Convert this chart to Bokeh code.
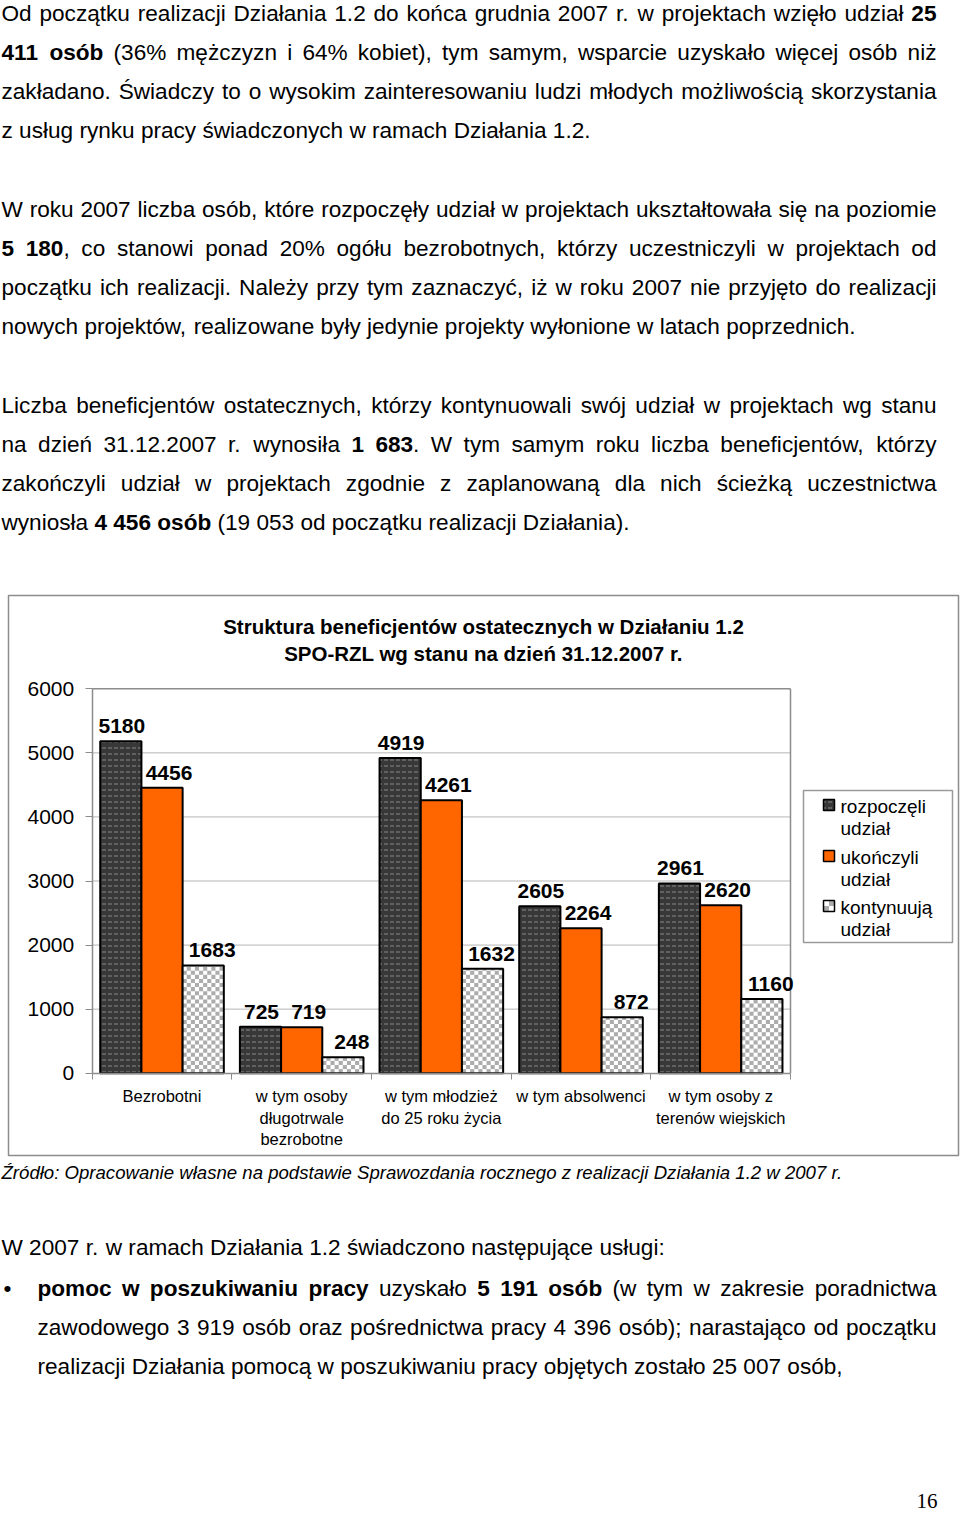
from bokeh.plotting import figure
from bokeh.models import Range1d, LinearAxis, FixedTicker
from bokeh.embed import file_html
from bokeh.resources import INLINE
from bokeh.core.properties import value

# ---------------- data ----------------
categories = ["Bezrobotni", "w tym osoby\ndługotrwale\nbezrobotne", "w tym młodzież\ndo 25 roku życia",
              "w tym absolwenci", "w tym osoby z\nterenów wiejskich"]
series_labels = [["rozpoczęli", "udział"], ["ukończyli", "udział"], ["kontynuują", "udział"]]
rozpoczeli = [5180, 725, 4919, 2605, 2961]
ukonczyli = [4456, 719, 4261, 2264, 2620]
kontynuuja = [1683, 248, 1632, 872, 1160]
y_ticks = [0, 1000, 2000, 3000, 4000, 5000, 6000]
chart_title = ["Struktura beneficjentów ostatecznych w Działaniu 1.2",
               "SPO-RZL wg stanu na dzień 31.12.2007 r."]
source_note = "Źródło: Opracowanie własne na podstawie Sprawozdania rocznego z realizacji Działania 1.2 w 2007 r."

R, B = "r", "b"
para1 = [
    [("Od początku realizacji Działania 1.2 do końca grudnia 2007 r. w projektach wzięło udział ", R), ("25", B)],
    [("411 osób", B), (" (36% mężczyzn i 64% kobiet), tym samym, wsparcie uzyskało więcej osób niż", R)],
    [("zakładano. Świadczy to o wysokim zainteresowaniu ludzi młodych możliwością skorzystania", R)],
    [("z usług rynku pracy świadczonych w ramach Działania 1.2.", R)],
]
para2 = [
    [("W roku 2007 liczba osób, które rozpoczęły udział w projektach ukształtowała się na poziomie", R)],
    [("5 180", B), (", co stanowi ponad 20% ogółu bezrobotnych, którzy uczestniczyli w projektach od", R)],
    [("początku ich realizacji. Należy przy tym zaznaczyć, iż w roku 2007 nie przyjęto do realizacji", R)],
    [("nowych projektów, realizowane były jedynie projekty wyłonione w latach poprzednich.", R)],
]
para3 = [
    [("Liczba beneficjentów ostatecznych, którzy kontynuowali swój udział w projektach wg stanu", R)],
    [("na dzień 31.12.2007 r. wynosiła ", R), ("1 683", B), (". W tym samym roku liczba beneficjentów, którzy", R)],
    [("zakończyli udział w projektach zgodnie z zaplanowaną dla nich ścieżką uczestnictwa", R)],
    [("wyniosła ", R), ("4 456 osób", B), (" (19 053 od początku realizacji Działania).", R)],
]
para4 = [[("W 2007 r. w ramach Działania 1.2 świadczono następujące usługi:", R)]]
bullet1 = [
    [("pomoc w poszukiwaniu pracy", B), (" uzyskało ", R), ("5 191 osób", B), (" (w tym w zakresie poradnictwa", R)],
    [("zawodowego 3 919 osób oraz pośrednictwa pracy 4 396 osób); narastająco od początku", R)],
    [("realizacji Działania pomocą w poszukiwaniu pracy objętych zostało 25 007 osób,", R)],
]
page_number = "16"

# ---------------- font metrics (Arial == Liberation Sans) ----------------
REG = {}
for chars, w in [(" !,./:;", 278), ("%", 889), ("()-", 333), ("0123456789", 556),
                 ("ABEKPSVXYŚ", 667), ("CDHNRU", 722), ("FTZŹŻ", 611), ("GOQ", 778), ("I", 278),
                 ("J", 500), ("LŁ", 556), ("M", 833), ("W", 944),
                 ("abdeghnopquąęńó", 556), ("ckvxyzćśźż", 500), ("ft", 278), ("ijlł", 222),
                 ("m", 833), ("r", 333), ("s", 500), ("w", 722), ("•", 350)]:
    for ch in chars:
        REG[ch] = w
BOLD = {}
for chars, w in [(" ,.:;", 278), ("%", 889), ("()-", 333), ("0123456789", 556),
                 ("ABCDHKNRU", 722), ("EPSVXYŚ", 667), ("FTZŹŻ", 611), ("GOQ", 778), ("I", 278),
                 ("J", 556), ("L", 611), ("M", 833), ("W", 944),
                 ("aceksvxyąćęś", 556), ("bdghnopquńó", 611), ("f", 333), ("ijlł", 278),
                 ("m", 889), ("r", 389), ("t", 333), ("w", 778), ("zźż", 500)]:
    for ch in chars:
        BOLD[ch] = w

FONT = "Liberation Sans"
BODY = 22.6
PAGE_W, PAGE_H = 960, 1515

# ---------------- page-pixel <-> data mapping (chart plot area) ----------------
PL, PR, PB, PT = 91.7, 790.0, 1072.7, 688.3
ncat = len(categories)
ymax = y_ticks[-1]
sx = (PR - PL) / ncat
sy = (PB - PT) / ymax


def ux(px):
    return (px - PL) / sx


def vy(py):
    return (PB - py) / sy


def text_width(s, style, size):
    tbl = BOLD if style == B else REG
    return sum(tbl.get(ch, 556) for ch in s) * size / 1000.0


def layout_line(runs, center, left, right, size, justify, out):
    words, cur = [], []
    for txt, style in runs:
        parts = txt.split(" ")
        for k, part in enumerate(parts):
            if k > 0 and cur:
                words.append(cur)
                cur = []
            if part:
                cur.append((part, style))
    if cur:
        words.append(cur)
    natural = sum(text_width(p, s, size) for wd in words for p, s in wd)
    space = 278 * size / 1000.0
    if justify and len(words) > 1:
        space = (right - left - natural) / (len(words) - 1)
    x = left
    for wd in words:
        for p, s in wd:
            out[s]["x"].append(ux(x))
            out[s]["y"].append(vy(center))
            out[s]["text"].append(p)
            x += text_width(p, s, size)
        x += space


def paragraph(lines, first_center, left, right, out, step=39):
    for i, runs in enumerate(lines):
        layout_line(runs, first_center + i * step, left, right, BODY, i < len(lines) - 1, out)


def checker_cells(left, right, bottom, top, cell_x, cell_y):
    """Grey squares of a checkerboard fill inside one rectangle (data units)."""
    L, Rr, Bt, T = [], [], [], []
    r = 0
    while bottom + r * cell_y < top - 1e-9:
        c = 0
        while left + c * cell_x < right - 1e-9:
            if (r + c) % 2 == 0:
                L.append(left + c * cell_x)
                Rr.append(min(left + (c + 1) * cell_x, right))
                Bt.append(bottom + r * cell_y)
                T.append(min(bottom + (r + 1) * cell_y, top))
            c += 1
        r += 1
    return L, Rr, Bt, T


p = figure(width=PAGE_W, height=PAGE_H, x_range=Range1d(ux(0), ux(PAGE_W)),
           y_range=Range1d(vy(PAGE_H), vy(0)), min_border=0,
           x_axis_type=None, y_axis_type=None, toolbar_location=None,
           output_backend="svg", outline_line_color=None)
p.grid.visible = False

# ---------------- body text ----------------
LEFT, RIGHT = 1, 936
out = {R: {"x": [], "y": [], "text": []}, B: {"x": [], "y": [], "text": []}}
paragraph(para1, 13, LEFT, RIGHT, out)
paragraph(para2, 209, LEFT, RIGHT, out)
paragraph(para3, 405, LEFT, RIGHT, out)
paragraph(para4, 1247, LEFT, RIGHT, out)
paragraph(bullet1, 1288, 37, RIGHT, out)
for style in (R, B):
    d = out[style]
    p.text(x=d["x"], y=d["y"], text=d["text"], text_font=value(FONT),
           text_font_size=f"{BODY}px", text_font_style="bold" if style == B else "normal",
           text_color="black", text_align="left", text_baseline="middle")
p.text(x=[ux(3)], y=[vy(1288)], text=["•"], text_font=value(FONT), text_font_size=f"{BODY}px",
       text_align="left", text_baseline="middle", text_color="black")
p.text(x=[ux(1)], y=[vy(1172)], text=[source_note], text_font=value(FONT), text_font_size="18.6px",
       text_font_style="italic", text_align="left", text_baseline="middle", text_color="black")
p.text(x=[ux(937)], y=[vy(1500)], text=[page_number], text_font=value("Liberation Serif"),
       text_font_size="21px", text_align="right", text_baseline="middle", text_color="black")

# ---------------- chart box ----------------
p.quad(left=[ux(8)], right=[ux(958)], top=[vy(595)], bottom=[vy(1155)],
       fill_color=None, line_color="#8c8c8c", line_width=1.5)

# gridlines and plot-area border
p.segment(x0=0, x1=ncat, y0=y_ticks[1:-1], y1=y_ticks[1:-1], line_color="#b5b5b5", line_width=1)
p.segment(x0=[0, ncat], x1=[ncat, ncat], y0=[ymax, 0], y1=[ymax, ymax], line_color="#8c8c8c", line_width=1.5)

DARK = dict(fill_color="#383838", hatch_pattern="horizontal_dash", hatch_color="#8a8a8a",
            hatch_scale=6, hatch_weight=1)
ORANGE = "#ff6600"
CHECK_GREY = "#acacac"

bw = 0.295
label_gap = 15 / sy
label_dx = [1, 7, 9]
series = [rozpoczeli, ukonczyli, kontynuuja]
for j, vals in enumerate(series):
    xs = [i + 0.5 + (j - 1) * bw for i in range(ncat)]
    if j == 0:
        p.vbar(x=xs, top=vals, bottom=0, width=bw, line_color="black", line_width=2, **DARK)
    elif j == 1:
        p.vbar(x=xs, top=vals, bottom=0, width=bw, line_color="black", line_width=2, fill_color=ORANGE)
    else:
        p.vbar(x=xs, top=vals, bottom=0, width=bw, line_color=None, fill_color="white")
        cl, cr, cb, ct = [], [], [], []
        for xc, v in zip(xs, vals):
            a, b_, c_, d_ = checker_cells(xc - bw / 2, xc + bw / 2, 0, v, 4.1 / sx, 4.1 / sy)
            cl += a; cr += b_; cb += c_; ct += d_
        p.quad(left=cl, right=cr, bottom=cb, top=ct, fill_color=CHECK_GREY, line_color=None)
        p.vbar(x=xs, top=vals, bottom=0, width=bw, line_color="black", line_width=2, fill_color=None)
    p.text(x=xs, y=[v + label_gap for v in vals], text=[str(v) for v in vals], text_font=value(FONT),
           text_font_style="bold", text_font_size="21px", text_align="center",
           text_baseline="middle", x_offset=label_dx[j], text_color="black")

yax = LinearAxis(fixed_location=0, bounds=(0, ymax), ticker=FixedTicker(ticks=y_ticks, minor_ticks=[]),
                 axis_line_color="#8c8c8c", axis_line_width=1.5, major_tick_line_color="#8c8c8c",
                 major_tick_out=7, major_tick_in=0, minor_tick_line_color=None,
                 major_label_text_font=FONT, major_label_text_font_size="21px",
                 major_label_text_color="black", major_label_standoff=11)
p.add_layout(yax, "left")

xax = LinearAxis(fixed_location=0, bounds=(0, ncat),
                 ticker=FixedTicker(ticks=[i + 0.5 for i in range(ncat)], minor_ticks=list(range(ncat + 1))),
                 major_label_overrides={i + 0.5: c for i, c in enumerate(categories)},
                 axis_line_color="#8c8c8c", axis_line_width=1.5, major_tick_line_color=None,
                 major_tick_out=0, major_tick_in=0, minor_tick_line_color="#8c8c8c",
                 minor_tick_out=6, minor_tick_in=0,
                 major_label_text_font=FONT, major_label_text_font_size="16.5px",
                 major_label_text_color="black", major_label_standoff=8)
p.add_layout(xax, "below")

# title
p.text(x=[ux(483)] * 2, y=[vy(626), vy(653)], text=chart_title, text_font=value(FONT),
       text_font_style="bold", text_font_size="20.5px", text_align="center",
       text_baseline="middle", text_color="black")

# legend
p.quad(left=[ux(803)], right=[ux(952)], top=[vy(790)], bottom=[vy(942)],
       fill_color="white", line_color="#9a9a9a", line_width=1.5)
sw_tops = [799, 850, 900]
SW_L, SW_R = ux(823), ux(834)
p.quad(left=[SW_L], right=[SW_R], top=[vy(sw_tops[0])], bottom=[vy(sw_tops[0] + 11)],
       line_color="black", line_width=1.5, **DARK)
p.quad(left=[SW_L], right=[SW_R], top=[vy(sw_tops[1])], bottom=[vy(sw_tops[1] + 11)],
       line_color="black", line_width=1.5, fill_color=ORANGE)
a, b_, c_, d_ = checker_cells(SW_L, SW_R, vy(sw_tops[2] + 11), vy(sw_tops[2]), 5.5 / sx, 5.5 / sy)
p.quad(left=[SW_L], right=[SW_R], top=[vy(sw_tops[2])], bottom=[vy(sw_tops[2] + 11)],
       line_color=None, fill_color="white")
p.quad(left=a, right=b_, bottom=c_, top=d_, fill_color=CHECK_GREY, line_color=None)
p.quad(left=[SW_L], right=[SW_R], top=[vy(sw_tops[2])], bottom=[vy(sw_tops[2] + 11)],
       line_color="black", line_width=1.5, fill_color=None)
for j in range(3):
    p.text(x=[ux(840)] * 2, y=[vy(sw_tops[j] + 7), vy(sw_tops[j] + 29)], text=series_labels[j],
           text_font=value(FONT), text_font_size="19px", text_align="left",
           text_baseline="middle", text_color="black")

open("out.html", "w").write(file_html(p, INLINE))
